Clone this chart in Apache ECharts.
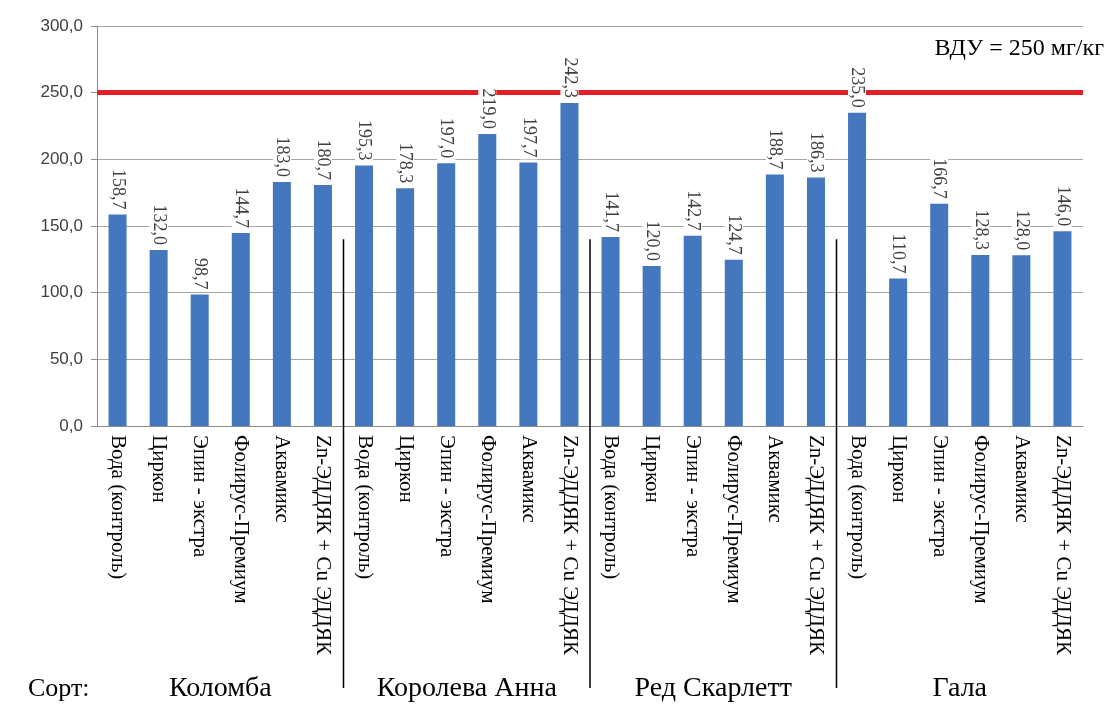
<!DOCTYPE html>
<html>
<head>
<meta charset="utf-8">
<script src="https://cdn.jsdelivr.net/npm/echarts@6/dist/echarts.min.js"></script>
<style>
  html, body { margin: 0; padding: 0; background: #fff; }
  #chart { width: 1110px; height: 704px; }
</style>
</head>
<body>
<div id="chart"></div>
<script>
const treatments = ['Вода (контроль)', 'Циркон', 'Эпин - экстра', 'Фолирус-Премиум', 'Аквамикс', 'Zn-ЭДДЯК + Cu ЭДДЯК']
const varieties = ['Коломба', 'Королева Анна', 'Ред Скарлетт', 'Гала']
const kolomba = [158.7, 132.0, 98.7, 144.7, 183.0, 180.7]
const korolevaAnna = [195.3, 178.3, 197.0, 219.0, 197.7, 242.3]
const redScarlett = [141.7, 120.0, 142.7, 124.7, 188.7, 186.3]
const gala = [235.0, 110.7, 166.7, 128.3, 128.0, 146.0]
const limit = 250
const separatorTop = 140

const categories = []
varieties.forEach(() => treatments.forEach(t => categories.push(t)))
const values = [].concat(kolomba, korolevaAnna, redScarlett, gala)
const separators = []
for (let i = 1; i < varieties.length; i++) separators.push([i * treatments.length, separatorTop])

const fmt = v => Number(v).toFixed(1).replace('.', ',')
const serif = '"Liberation Serif", "DejaVu Serif", serif'

const chart = echarts.init(document.getElementById('chart'))
chart.setOption({
  animation: false,
  backgroundColor: '#fff',
  grid: { left: 97, right: 27, top: 26, bottom: 278 },
  graphic: [
    { type: 'text', left: 28, top: 676, style: { text: 'Сорт:', font: '26px ' + serif, fill: '#000' } },
    { type: 'text', right: 6, top: 37, style: { text: 'ВДУ = 250 мг/кг', font: '24px ' + serif, fill: '#000' } }
  ],
  xAxis: [
    {
      type: 'category',
      data: categories,
      axisLine: { lineStyle: { color: '#8c8c8c' } },
      axisTick: { length: 5, lineStyle: { color: '#8c8c8c' } },
      axisLabel: { rotate: -90, interval: 0, margin: 9, color: '#000', fontFamily: serif, fontSize: 21 }
    },
    {
      type: 'category',
      position: 'bottom',
      offset: 246,
      data: varieties,
      axisLine: { show: false },
      axisTick: { show: false },
      axisLabel: { interval: 0, margin: 3, color: '#000', fontFamily: serif, fontSize: 28 }
    }
  ],
  yAxis: {
    type: 'value',
    min: 0,
    max: 300,
    interval: 50,
    axisLine: { show: true, lineStyle: { color: '#8c8c8c' } },
    axisTick: { show: true, length: 6, lineStyle: { color: '#8c8c8c' } },
    axisLabel: { formatter: fmt, color: '#404040', fontFamily: '"Liberation Sans", Arial, sans-serif', fontSize: 17, margin: 14 },
    splitLine: { lineStyle: { color: '#a6a6a6' } }
  },
  series: [
    {
      type: 'bar',
      data: values,
      barWidth: 18,
      itemStyle: { color: '#4477bd' },
      label: {
        show: true,
        position: 'top',
        rotate: -90,
        align: 'right',
        verticalAlign: 'middle',
        distance: 3,
        formatter: p => fmt(p.value),
        color: '#404040',
        fontFamily: serif,
        fontSize: 18,
        backgroundColor: '#fff',
        padding: [0, 2]
      },
      markLine: {
        symbol: 'none',
        silent: true,
        label: { show: false },
        lineStyle: { color: '#e01f26', width: 5, type: 'solid' },
        data: [{ yAxis: limit }],
        z: 1
      }
    },
    {
      type: 'custom',
      data: separators,
      clip: false,
      silent: true,
      renderItem: (params, api) => {
        const idx = api.value(0)
        const top = api.coord([idx, api.value(1)])
        const base = api.coord([idx, 0])
        const w = api.size([1, 0])[0]
        const x = top[0] - w / 2
        return {
          type: 'line',
          shape: { x1: x, y1: top[1], x2: x, y2: base[1] + 262 },
          style: { stroke: '#000', lineWidth: 1.5 }
        }
      }
    }
  ]
})
</script>
</body>
</html>
